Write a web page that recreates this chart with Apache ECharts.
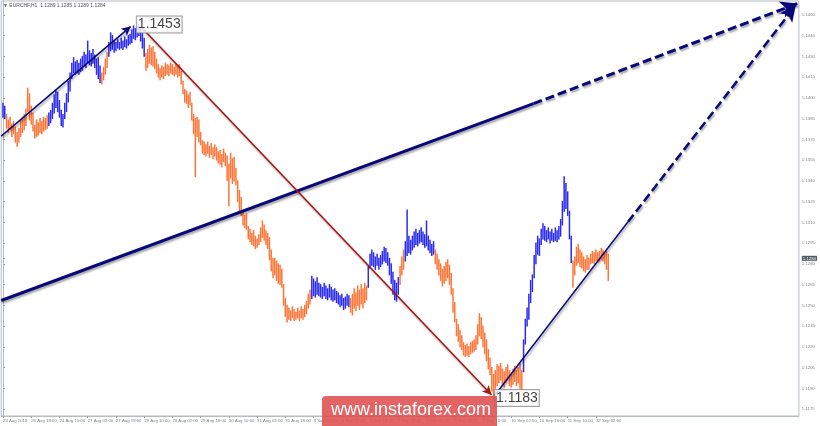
<!DOCTYPE html>
<html>
<head>
<meta charset="utf-8">
<title>EURCHF H1</title>
<script src="https://cdn.jsdelivr.net/npm/echarts@6.0.0/dist/echarts.min.js"></script>
<style>
  html, body { margin: 0; padding: 0; background: #fff; }
  #main { width: 820px; height: 426px; }
</style>
</head>
<body>
<div id="main"></div>
<script>
// hourly bars (price high / low)
var highs = [1.1396,1.1394,1.1388,1.1384,1.1386,1.1381,1.1383,1.1379,1.1375,1.1378,
1.1384,1.1386,1.1388,1.1392,1.1407,1.1403,1.1394,1.1389,1.1380,1.1384,
1.1382,1.1385,1.1383,1.1386,1.1385,1.1387,1.1389,1.1391,1.1396,1.1402,
1.1406,1.1404,1.1398,1.1391,1.1388,1.1396,1.1403,1.1412,1.1418,1.1425,
1.1429,1.1426,1.1427,1.1425,1.1428,1.1430,1.1433,1.1431,1.1441,1.1434,
1.1432,1.1435,1.1431,1.1428,1.1429,1.1423,1.1418,1.1422,1.1428,1.1433,
1.1440,1.1447,1.1445,1.1441,1.1440,1.1442,1.1440,1.1443,1.1441,1.1444,
1.1442,1.1445,1.1446,1.1449,1.1452,1.1450,1.1451,1.1453,1.1450,1.1447,
1.1443,1.1432,1.1435,1.1438,1.1436,1.1437,1.1433,1.1428,1.1424,1.1421,
1.1423,1.1422,1.1425,1.1424,1.1423,1.1425,1.1424,1.1422,1.1424,1.1423,
1.1424,1.1419,1.1412,1.1406,1.1405,1.1402,1.1404,1.1396,1.1388,1.1385,
1.1386,1.1384,1.1375,1.1369,1.1368,1.1366,1.1368,1.1365,1.1367,1.1364,
1.1366,1.1364,1.1361,1.1362,1.1359,1.1363,1.1360,1.1358,1.1352,1.1360,
1.1356,1.1357,1.1349,1.1340,1.1333,1.1328,1.1318,1.1315,1.1316,1.1307,
1.1305,1.1302,1.1304,1.1300,1.1298,1.1301,1.1306,1.1311,1.1308,1.1304,
1.1302,1.1299,1.1290,1.1284,1.1284,1.1282,1.1280,1.1279,1.1276,1.1265,
1.1255,1.1250,1.1248,1.1246,1.1249,1.1247,1.1245,1.1248,1.1246,1.1249,
1.1247,1.1250,1.1253,1.1258,1.1261,1.1271,1.1269,1.1267,1.1270,1.1266,
1.1265,1.1263,1.1266,1.1264,1.1262,1.1265,1.1263,1.1261,1.1262,1.1260,
1.1259,1.1257,1.1258,1.1255,1.1256,1.1258,1.1257,1.1255,1.1258,1.1262,
1.1259,1.1264,1.1261,1.1265,1.1262,1.1266,1.1264,1.1278,1.1287,1.1290,
1.1288,1.1285,1.1287,1.1284,1.1286,1.1289,1.1292,1.1291,1.1288,1.1284,
1.1280,1.1274,1.1268,1.1266,1.1270,1.1278,1.1285,1.1290,1.1296,1.1319,
1.1300,1.1297,1.1300,1.1303,1.1305,1.1302,1.1304,1.1306,1.1303,1.1301,
1.1311,1.1300,1.1297,1.1294,1.1296,1.1290,1.1287,1.1283,1.1280,1.1276,
1.1278,1.1281,1.1283,1.1279,1.1273,1.1262,1.1252,1.1240,1.1236,1.1232,
1.1228,1.1223,1.1221,1.1222,1.1220,1.1223,1.1224,1.1225,1.1228,1.1236,
1.1244,1.1241,1.1235,1.1230,1.1225,1.1218,1.1212,1.1205,1.1200,1.1203,
1.1207,1.1206,1.1208,1.1204,1.1202,1.1205,1.1207,1.1203,1.1201,1.1204,
1.1206,1.1203,1.1205,1.1208,1.1203,1.1225,1.1240,1.1248,1.1258,1.1268,
1.1272,1.1286,1.1295,1.1300,1.1298,1.1305,1.1309,1.1307,1.1304,1.1306,
1.1303,1.1305,1.1302,1.1306,1.1304,1.1307,1.1312,1.1325,1.1343,1.1338,
1.1332,1.1318,1.1300,1.1282,1.1285,1.1292,1.1294,1.1290,1.1288,1.1285,
1.1283,1.1286,1.1284,1.1287,1.1289,1.1288,1.1290,1.1288,1.1289,1.1291,
1.1290,1.1288,1.1289,1.1287];

var lows = [1.1386,1.1385,1.1378,1.1375,1.1377,1.1372,1.1374,1.1368,1.1365,1.1368,
1.1372,1.1375,1.1377,1.1380,1.1390,1.1384,1.1381,1.1376,1.1371,1.1372,
1.1373,1.1375,1.1374,1.1376,1.1377,1.1378,1.1380,1.1382,1.1385,1.1389,
1.1393,1.1390,1.1386,1.1380,1.1379,1.1385,1.1390,1.1397,1.1405,1.1414,
1.1418,1.1417,1.1418,1.1417,1.1419,1.1420,1.1423,1.1422,1.1425,1.1424,
1.1423,1.1425,1.1422,1.1417,1.1414,1.1411,1.1410,1.1413,1.1417,1.1422,
1.1430,1.1434,1.1435,1.1433,1.1434,1.1436,1.1435,1.1436,1.1435,1.1437,
1.1436,1.1438,1.1439,1.1440,1.1443,1.1442,1.1444,1.1445,1.1441,1.1436,
1.1430,1.1420,1.1422,1.1425,1.1424,1.1423,1.1421,1.1418,1.1415,1.1413,
1.1415,1.1414,1.1416,1.1417,1.1416,1.1418,1.1417,1.1416,1.1417,1.1415,
1.1416,1.1410,1.1403,1.1397,1.1396,1.1393,1.1395,1.1384,1.1374,1.1343,
1.1372,1.1368,1.1366,1.1360,1.1359,1.1358,1.1360,1.1357,1.1359,1.1356,
1.1358,1.1355,1.1353,1.1352,1.1350,1.1354,1.1351,1.1340,1.1322,1.1342,
1.1338,1.1340,1.1337,1.1325,1.1318,1.1315,1.1308,1.1306,1.1305,1.1298,
1.1296,1.1294,1.1293,1.1291,1.1292,1.1294,1.1296,1.1299,1.1297,1.1294,
1.1291,1.1283,1.1275,1.1270,1.1272,1.1268,1.1266,1.1265,1.1263,1.1250,
1.1242,1.1238,1.1240,1.1239,1.1241,1.1239,1.1240,1.1241,1.1239,1.1241,
1.1240,1.1242,1.1244,1.1248,1.1251,1.1255,1.1257,1.1256,1.1258,1.1257,
1.1256,1.1255,1.1257,1.1255,1.1254,1.1256,1.1254,1.1253,1.1254,1.1252,
1.1251,1.1249,1.1250,1.1247,1.1248,1.1250,1.1249,1.1245,1.1243,1.1248,
1.1246,1.1250,1.1247,1.1251,1.1248,1.1252,1.1254,1.1263,1.1277,1.1279,
1.1278,1.1276,1.1279,1.1276,1.1278,1.1280,1.1282,1.1281,1.1279,1.1272,
1.1266,1.1258,1.1254,1.1253,1.1258,1.1265,1.1272,1.1276,1.1282,1.1286,
1.1288,1.1287,1.1290,1.1292,1.1294,1.1293,1.1295,1.1296,1.1294,1.1292,
1.1293,1.1290,1.1288,1.1286,1.1287,1.1280,1.1276,1.1272,1.1268,1.1264,
1.1266,1.1268,1.1270,1.1265,1.1258,1.1245,1.1238,1.1228,1.1224,1.1220,
1.1218,1.1214,1.1213,1.1214,1.1213,1.1215,1.1216,1.1217,1.1218,1.1222,
1.1228,1.1226,1.1220,1.1215,1.1210,1.1204,1.1200,1.1188,1.1183,1.1190,
1.1192,1.1194,1.1196,1.1193,1.1191,1.1194,1.1196,1.1192,1.1191,1.1193,
1.1195,1.1192,1.1194,1.1190,1.1185,1.1202,1.1222,1.1235,1.1240,1.1252,
1.1260,1.1270,1.1280,1.1287,1.1286,1.1294,1.1298,1.1297,1.1296,1.1298,
1.1295,1.1297,1.1296,1.1297,1.1296,1.1298,1.1300,1.1308,1.1318,1.1320,
1.1315,1.1298,1.1281,1.1263,1.1272,1.1279,1.1281,1.1278,1.1277,1.1275,
1.1274,1.1276,1.1276,1.1280,1.1281,1.1280,1.1282,1.1281,1.1282,1.1283,
1.1282,1.1280,1.1276,1.1268];

// wave colouring: [number of bars, direction]
var waveRuns = [[2,'up'],[24,'down'],[30,'up'],[4,'down'],[21,'up'],[94,'down'],
  [22,'up'],[10,'down'],[18,'up'],[3,'down'],[17,'up'],[50,'down'],[28,'up'],[21,'down']];

var priceTicks = [1.1175,1.1190,1.1205,1.1220,1.1235,1.1250,1.1265,1.1280,1.1284,1.1295,
  1.1310,1.1325,1.1340,1.1355,1.1370,1.1385,1.1400,1.1415,1.1430,1.1445,1.1460];
var lastPrice = 1.1284;

var labelBars = [0,16,32,48,64,80,96,112,128,144,160,176,192,208,224,240,256,272,288,304,320,336];
var timeTicks = ['23 Aug 2018','23 Aug 18:00','24 Aug 10:00','27 Aug 02:00','27 Aug 18:00',
  '28 Aug 10:00','29 Aug 02:00','29 Aug 18:00','30 Aug 10:00','31 Aug 02:00','31 Aug 18:00',
  '3 Sep 10:00','4 Sep 02:00','4 Sep 18:00','5 Sep 10:00','6 Sep 02:00','6 Sep 18:00',
  '7 Sep 10:00','10 Sep 02:00','10 Sep 18:00','11 Sep 10:00','12 Sep 02:00'];

// wave lines drawn on the chart: [bar, price]
var trendSolid = [[-1, 1.12535], [300.6, 1.13958]];
var trendDash  = [[300.6, 1.13958], [450.3, 1.14682]];
var waveUp     = [[-1, 1.13723], [72.3, 1.14515]];
var waveDown   = [[78, 1.14515], [276.8, 1.11853]];
var nowSolid   = [[278.5, 1.11846], [354.2, 1.13104]];
var nowDash    = [[354.2, 1.13104], [449.2, 1.14667]];
var pivotLabels = [[75, 1.1453], [278, 1.1183]];

var BLUE = '#2b2bf2';
var ORANGE = '#ff7538';
var NAVY = '#08087a';

var upBar = [];
waveRuns.forEach(function (r) {
    for (var k = 0; k < r[0]; k++) upBar.push(r[1] === 'up' ? 1 : 0);
});
var bars = highs.map(function (h, i) { return [i, h, lows[i], upBar[i]]; });

var shadow = { shadowColor: 'rgba(0,0,0,0.35)', shadowBlur: 2, shadowOffsetX: 1, shadowOffsetY: 2 };

function waveLine(pts, color, width, dash, arrow, arrowSize) {
    return {
        type: 'line', data: [], silent: true, z: 5,
        markLine: {
            silent: true, animation: false,
            symbol: ['none', arrow ? 'arrow' : 'none'],
            symbolSize: arrowSize || 8,
            label: { show: false },
            emphasis: { disabled: true },
            lineStyle: Object.assign({ color: color, width: width, type: dash ? [9, 4] : 'solid', opacity: 1 }, shadow),
            data: [[{ coord: pts[0] }, { coord: pts[1] }]]
        }
    };
}

var myChart = echarts.init(document.getElementById('main'));
var option = {
    animation: false,
    backgroundColor: '#fff',
    grid: { left: 1, right: 18, top: 1, bottom: 10, show: true, borderColor: '#b4bcc6', borderWidth: 1 },
    xAxis: {
        type: 'value', min: -1, max: 451,
        axisLine: { show: true, lineStyle: { color: '#b4bcc6' } },
        axisTick: { show: true, customValues: labelBars, length: 2, lineStyle: { color: '#9aa2ac' } },
        axisLabel: {
            customValues: labelBars, align: 'left', margin: 3,
            showMinLabel: true, showMaxLabel: true,
            fontSize: 4.3, color: '#808080', fontFamily: 'Liberation Sans',
            formatter: function (v) { return timeTicks[labelBars.indexOf(v)]; }
        },
        splitLine: { show: false }
    },
    yAxis: {
        type: 'value', position: 'right', min: 1.1170, max: 1.1470,
        axisLine: { show: true, lineStyle: { color: '#b4bcc6' } },
        axisTick: { show: true, customValues: priceTicks, length: 2, lineStyle: { color: '#9aa2ac' } },
        axisLabel: {
            customValues: priceTicks, margin: 3,
            showMinLabel: true, showMaxLabel: true,
            fontSize: 4.3, color: '#808080', fontFamily: 'Liberation Sans',
            formatter: function (v) {
                return v === lastPrice ? '{cur|' + v.toFixed(4) + '}' : v.toFixed(4);
            },
            rich: { cur: { backgroundColor: '#4d5966', color: '#fff', fontSize: 4.3, padding: [1, 1, 0, 1] } }
        },
        splitLine: { show: false }
    },
    series: [
        {
            type: 'custom', data: bars, z: 2, clip: true,
            encode: { x: 0, y: [1, 2] },
            renderItem: function (params, api) {
                var hi = api.coord([api.value(0), api.value(1)]);
                var lo = api.coord([api.value(0), api.value(2)]);
                return {
                    type: 'line',
                    shape: { x1: hi[0], y1: hi[1] - 0.5, x2: lo[0], y2: lo[1] + 0.5 },
                    style: { stroke: api.value(3) ? BLUE : ORANGE, lineWidth: 1.5 }
                };
            }
        },
        waveLine(trendSolid, NAVY, 3, false, false),
        waveLine(trendDash, NAVY, 3, true, true, [13, 17]),
        waveLine(waveUp, NAVY, 1.5, false, true, [7, 9]),
        waveLine(waveDown, '#a81414', 1.5, false, true, [7, 9]),
        waveLine(nowSolid, NAVY, 1.5, false, false),
        waveLine(nowDash, NAVY, 2.5, true, true, [12, 16]),
        {
            type: 'scatter', data: pivotLabels, symbolSize: 1, z: 10, silent: true,
            itemStyle: { color: 'rgba(0,0,0,0)' },
            label: {
                show: true, position: 'right', distance: 1,
                formatter: function (p) { return p.value[1].toFixed(4); },
                fontFamily: 'Liberation Sans', fontSize: 14, color: '#111',
                backgroundColor: '#fff', borderColor: '#8a8a8a', borderWidth: 1,
                padding: [2, 1, 0, 1]
            }
        }
    ],
    graphic: [
        {
            type: 'text', left: 3, top: 3, z: 50,
            style: { text: '\u25BC EURCHF,H1  1.1289 1.1285 1.1289 1.1284', fill: '#555', font: '5px "Liberation Sans"' }
        },
        {
            type: 'rect', left: 322, top: 396, z: 100,
            shape: { width: 175, height: 30, r: [4, 0, 0, 0] },
            style: { fill: 'rgba(222,78,78,0.88)' }
        },
        {
            type: 'text', left: 331, top: 401, z: 101,
            style: { text: 'www.instaforex.com', fill: '#fff', font: '18px "Liberation Sans"' }
        }
    ]
};
myChart.setOption(option);
</script>
</body>
</html>
